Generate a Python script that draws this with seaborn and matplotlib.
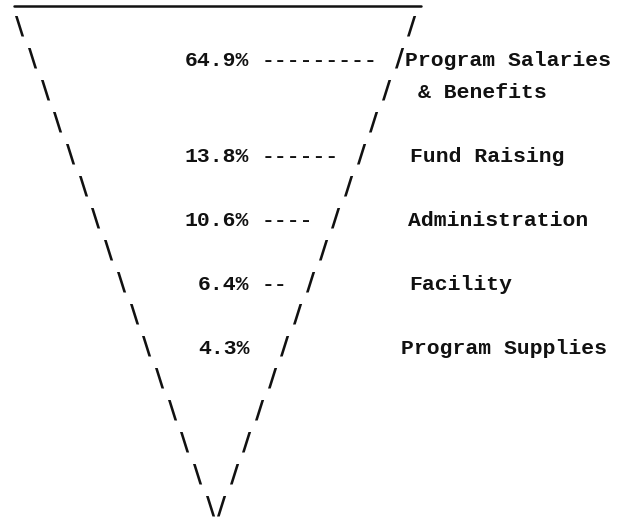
import numpy as np
import pandas as pd
import matplotlib
matplotlib.use("Agg")
import matplotlib.pyplot as plt
import seaborn as sns

# ---- data -------------------------------------------------------------
categories = ["Program Salaries", "Fund Raising", "Administration",
              "Facility", "Program Supplies"]
category_second_line = ["& Benefits", "", "", "", ""]
percentages = [64.9, 13.8, 10.6, 6.4, 4.3]

# ---- layout (typewriter character grid) -------------------------------
N_ROWS = 16            # typed lines forming the funnel
ROW_Y0, ROW_DY = 27.0, 32.0
LEFT_X0, RIGHT_X0, SLASH_DX = 19.8, 412.0, 12.7
TEXT_L, CW = 185.0, 12.8
BASE_OFF = 7.0         # baseline below row centre
label_rows = [1, 4, 6, 8, 10]
label_cols = [17.2, 17.55, 17.45, 17.55, 16.85]
second_line_col = 18.2

sns.set_theme(style="white")
plt.rcParams["font.family"] = ["Liberation Mono", "DejaVu Sans Mono"]

fig = plt.figure(figsize=(6.25, 5.19), dpi=100)
ax = fig.add_axes([0, 0, 1, 1])
ax.set_xlim(0, 625)
ax.set_ylim(519, 0)
ax.axis("off")

ink = "#111111"
FS = CW / 0.6 * 72 / 100          # font size giving CW px advance

rows = np.arange(N_ROWS)
funnel = pd.DataFrame({
    "row": rows,
    "y": ROW_Y0 + ROW_DY * rows,
    "left": LEFT_X0 + SLASH_DX * rows,
    "right": RIGHT_X0 - SLASH_DX * rows,
})

# top rule
top = pd.DataFrame({"x": [funnel.left.iloc[0] - 6, funnel.right.iloc[0] + 9],
                    "y": [ROW_Y0 - 21.3] * 2})
sns.lineplot(data=top, x="x", y="y", ax=ax, color=ink, lw=1.8)

# funnel sides, typed slashes
for _, r in funnel.iterrows():
    ax.text(r.left, r.y, "\\", ha="center", va="center", fontsize=18,
            fontweight="bold", color=ink, family="DejaVu Sans")
    ax.text(r.right, r.y, "/", ha="center", va="center", fontsize=18,
            fontweight="bold", color=ink, family="DejaVu Sans")

def col_x(c):
    return TEXT_L + CW * c

for pct, cat, cat2, row, lc in zip(percentages, categories,
                                   category_second_line, label_rows, label_cols):
    y = ROW_Y0 + ROW_DY * row + BASE_OFF
    s = f"{pct:.1f}%"
    ax.text(col_x(5 - len(s)), y, s, ha="left", va="baseline",
            fontsize=FS, fontweight="bold", color=ink)
    slash_col = (RIGHT_X0 - SLASH_DX * row - TEXT_L) / CW - 0.5
    n_dash = int(round(slash_col)) - 7
    if n_dash > 0:
        ax.text(col_x(6), y, "-" * n_dash, ha="left", va="baseline",
                fontsize=FS, fontweight="bold", color=ink)
    ax.text(col_x(lc), y, cat, ha="left", va="baseline",
            fontsize=FS, fontweight="bold", color=ink)
    if cat2:
        ax.text(col_x(second_line_col), y + ROW_DY, cat2, ha="left",
                va="baseline", fontsize=FS, fontweight="bold", color=ink)

fig.savefig("out.png", dpi=100, facecolor="white")
